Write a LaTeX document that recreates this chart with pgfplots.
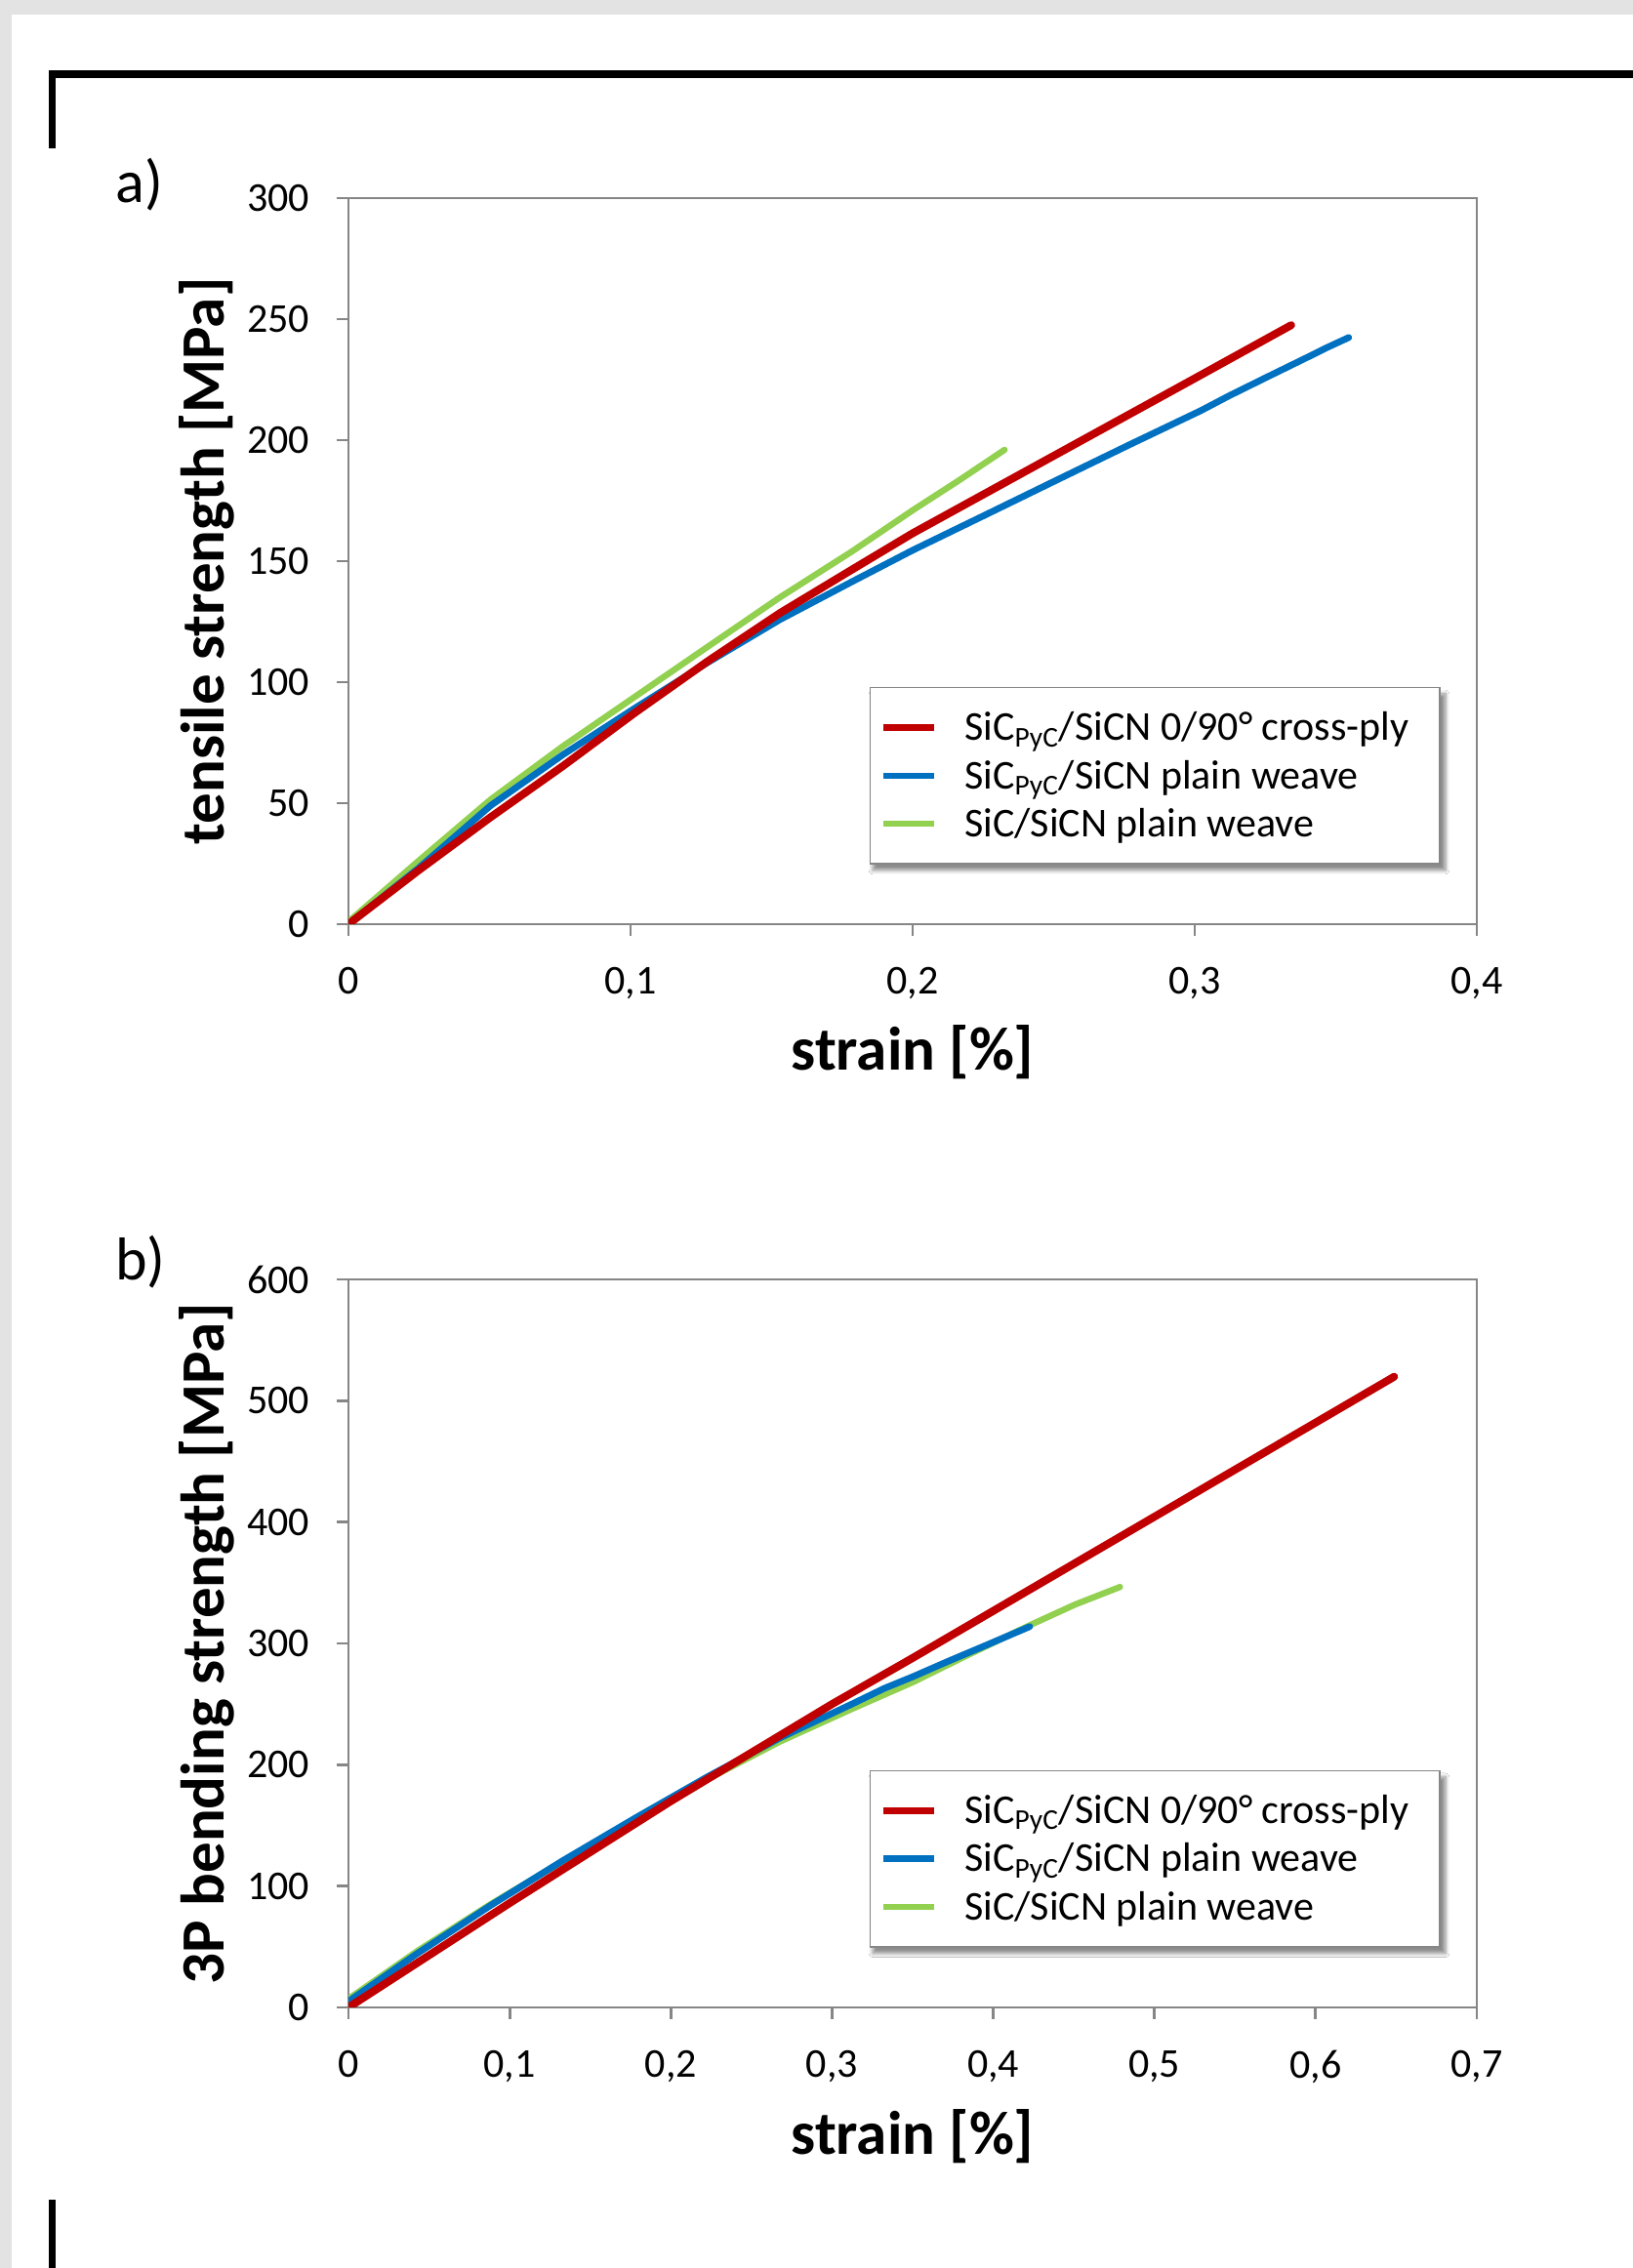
\documentclass[border=0pt]{standalone}
\usepackage{fontspec}
\setmainfont{Carlito}
\usepackage{pgfplots}
\pgfplotsset{compat=1.18}
\usetikzlibrary{shadows.blur}

\definecolor{xlred}{HTML}{C00000}
\definecolor{xlblue}{HTML}{0070C0}
\definecolor{xlgreen}{HTML}{92D050}
\definecolor{xlgray}{HTML}{868686}
\definecolor{pagebg}{HTML}{E3E3E3}

% 1 px of the original = 0.5pt
\pgfplotsset{
  panel/.style={
    scale only axis,
    width=578pt,
    anchor=south west,
    xmin=0, ymin=0,
    axis line style={xlgray, line width=1.4pt},
    every tick/.style={xlgray, line width=1.4pt},
    major tick length=6pt,
    tick align=outside,
    xtick pos=lower, ytick pos=left,
    /pgf/number format/assume math mode=true,
    /pgf/number format/use comma,
    ticklabel style={font=\fontsize{21}{25}\selectfont},
    yticklabel style={xshift=-10.5pt},
    xticklabel style={yshift=-12.5pt},
    xlabel={strain [\%]},
    every axis x label/.style={at={(rel axis cs:0.5,0)}, anchor=base, yshift=-75pt,
      font=\fontsize{31.5}{38}\selectfont\bfseries},
    every axis y label/.style={at={(rel axis cs:0,0.5)}, xshift=-72.5pt, rotate=90, anchor=center,
      font=\fontsize{31.5}{38}\selectfont\bfseries},
    reverse legend,
    legend cell align=left,
    legend style={
      at={(0.968,0.082)}, anchor=south east,
      draw=xlgray, line width=0.8pt, fill=white,
      font=\fontsize{21}{25}\selectfont,
      inner xsep=5pt, inner ysep=10.5pt,
      row sep=4.5pt,
      /tikz/every odd column/.append style={column sep=12pt},
    },
    legend image code/.code={\draw[#1, line width=3.3pt, line cap=butt] (0pt,0pt) -- (26pt,0pt);},
  },
  redline/.style={xlred, line width=4pt, line cap=round, line join=round},
  blueline/.style={xlblue, line width=3.4pt, line cap=round, line join=round},
  greenline/.style={xlgreen, line width=3.2pt, line cap=round, line join=round},
}
\tikzset{legshadow/.style={blur shadow={shadow xshift=2.5pt, shadow yshift=-3pt,
  shadow blur steps=6, shadow opacity=45}}}

\begin{document}
\begin{tikzpicture}
\useasboundingbox (0,0) rectangle (836.5pt,1162pt);
\fill[pagebg] (0,0) rectangle (836.5pt,1162pt);
\fill[white] (6pt,0) rectangle (836.5pt,1154.5pt);
\fill[black] (25pt,1122pt) rectangle (836.5pt,1126pt);
\fill[black] (25pt,1086pt) rectangle (28.5pt,1126pt);
\fill[black] (25pt,0pt) rectangle (28.5pt,35pt);

\node[anchor=base west, font=\fontsize{31}{36}\selectfont, inner sep=0pt] at (59pt,1058pt) {a)};
\node[anchor=base west, font=\fontsize{31}{36}\selectfont, inner sep=0pt] at (59pt,506pt) {b)};

% legend shadows, under the legend boxes
\path[legshadow] (444.5pt,719pt) rectangle (738pt,809.5pt);
\path[legshadow] (444.5pt,164.1pt) rectangle (738pt,254.6pt);

% a) tensile
\begin{axis}[panel, at={(178.5pt,688.5pt)}, height=372pt,
  xmax=0.4, ymax=300,
  xtick={0,0.1,0.2,0.3,0.4}, ytick={0,50,...,300},
  ylabel={tensile strength [MPa]}]
\addplot[greenline] coordinates {
(0,1) (0.0247,26) (0.0504,51.5) (0.076,73.5) (0.1016,94) (0.1272,114.5)
(0.1529,135) (0.1785,154) (0.2,171) (0.2166,183.5) (0.2326,196)};
\addlegendentry{SiC/SiCN plain weave}
\addplot[blueline] coordinates {
(0,0) (0.0247,23.0) (0.0504,49) (0.076,70) (0.1016,89.3) (0.1272,108)
(0.1529,125.8) (0.1785,141.5) (0.2,154.5) (0.2256,169) (0.2511,183.5)
(0.2767,198) (0.3022,212.2) (0.3125,218.5) (0.3278,227.3) (0.3406,234.6)
(0.347,238.3) (0.3546,242.4)};
\addlegendentry{SiC\textsubscript{PyC}/SiCN plain weave}
\addplot[redline] coordinates {
(0,0) (0.0247,22.1) (0.0504,44.2) (0.076,65.3) (0.1016,87.4) (0.1272,108.5)
(0.1529,128.5) (0.1785,146.5) (0.2,161.5) (0.225,177.5) (0.25,193.5) (0.275,209.5)
(0.3,225.5) (0.3342,247.5)};
\addlegendentry{SiC\textsubscript{PyC}/SiCN 0/90° cross-ply\rule{9pt}{0pt}}
\end{axis}

% b) 3P bending
\begin{axis}[panel, at={(178.5pt,133.5pt)}, height=373pt,
  xmax=0.7, ymax=600,
  xtick={0,0.1,0.2,0.3,0.4,0.5,0.6,0.7}, ytick={0,100,...,600},
  ylabel={3P bending strength [MPa]}]
\addplot[greenline] coordinates {
(0,7) (0.0433,47) (0.0881,85) (0.133,120.5) (0.1778,155) (0.2226,188)
(0.2675,219) (0.3123,246) (0.35,268) (0.3836,290) (0.4227,315)
(0.4507,332) (0.4786,346.5)};
\addlegendentry{SiC/SiCN plain weave}
\addplot[blueline] coordinates {
(0,5) (0.0433,45) (0.0881,84) (0.133,121) (0.1778,156) (0.2226,190)
(0.2675,222) (0.3123,250) (0.3325,263) (0.35,272.5) (0.3724,285.5)
(0.3947,298) (0.4227,313.9)};
\addlegendentry{SiC\textsubscript{PyC}/SiCN plain weave}
\addplot[redline] coordinates {
(0,0) (0.05,43) (0.1,86) (0.15,128) (0.2,170) (0.25,210) (0.3,250) (0.35,288)
(0.4,326.8) (0.45,365.6) (0.5,404.4) (0.55,443.2) (0.6,482) (0.6487,519.8)};
\addlegendentry{SiC\textsubscript{PyC}/SiCN 0/90° cross-ply\rule{9pt}{0pt}}
\end{axis}
\end{tikzpicture}
\end{document}
